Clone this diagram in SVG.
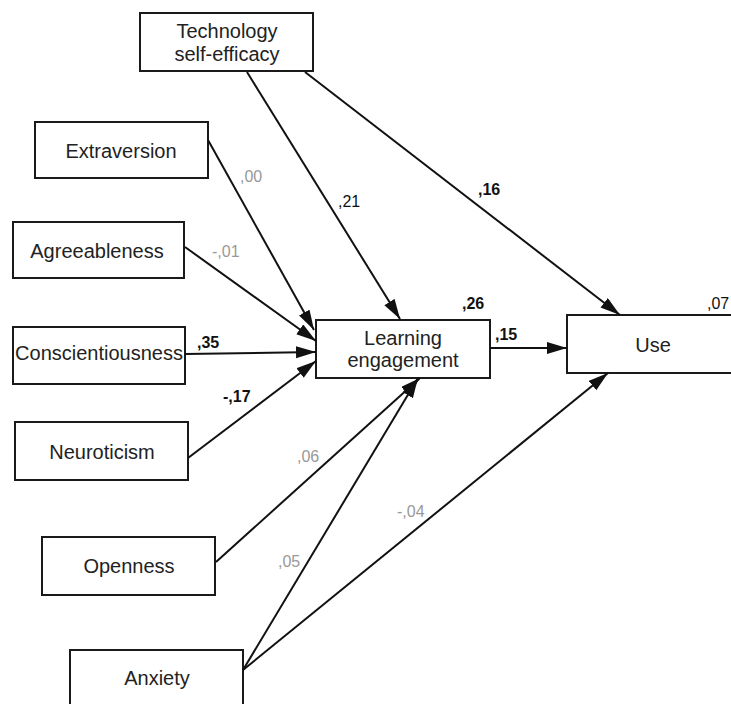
<svg xmlns="http://www.w3.org/2000/svg" width="731" height="704" viewBox="0 0 731 704">
<defs>
<marker id="ah" markerUnits="userSpaceOnUse" markerWidth="22" markerHeight="14" refX="20" refY="6" orient="auto">
<path d="M0,0 L20,6 L0,12 z" fill="#111"/>
</marker>
<style>
.box{fill:#fff;stroke:#1a1a1a;stroke-width:2}
.nt{font-family:"Liberation Sans",Arial,sans-serif;font-size:20px;fill:#222;text-anchor:middle}
.ln{stroke:#111;stroke-width:2;fill:none;marker-end:url(#ah)}
.lb{font-family:"Liberation Sans",Arial,sans-serif;font-size:16px;fill:#111;font-weight:bold}
.lr{font-family:"Liberation Sans",Arial,sans-serif;font-size:16px;fill:#111}
.lg{font-family:"Liberation Sans",Arial,sans-serif;font-size:16px;fill:#999}
</style>
</defs>
<rect width="731" height="704" fill="#fff"/>
<g id="tse"><rect class="box" x="140" y="13" width="173" height="58"/><text class="nt" x="227" y="38">Technology</text><text class="nt" x="227" y="61">self-efficacy</text></g>
<g id="extraversion"><rect class="box" x="35" y="122" width="173" height="56"/><text class="nt" x="121" y="158">Extraversion</text></g>
<g id="agreeableness"><rect class="box" x="13" y="222" width="171" height="56"/><text class="nt" x="97" y="258">Agreeableness</text></g>
<g id="conscientiousness"><rect class="box" x="13" y="327" width="172" height="57"/><text class="nt" x="99" y="360">Conscientiousness</text></g>
<g id="neuroticism"><rect class="box" x="15" y="422" width="173" height="58"/><text class="nt" x="102" y="459">Neuroticism</text></g>
<g id="openness"><rect class="box" x="42" y="537" width="173" height="58"/><text class="nt" x="129" y="573">Openness</text></g>
<g id="anxiety"><rect class="box" x="70" y="650" width="173" height="70"/><text class="nt" x="157" y="685">Anxiety</text></g>
<g id="learning"><rect class="box" x="316" y="320" width="174" height="58"/><text class="nt" x="403" y="345">Learning</text><text class="nt" x="403" y="367">engagement</text></g>
<g id="use"><rect class="box" x="567" y="315" width="180" height="58"/><text class="nt" x="653" y="352">Use</text></g>
<g id="connectors">
<line class="ln" x1="247" y1="72" x2="400" y2="319"/>
<line class="ln" x1="305" y1="72" x2="620" y2="315"/>
<line class="ln" x1="208" y1="140" x2="314" y2="330"/>
<line class="ln" x1="185" y1="247" x2="316" y2="341"/>
<line class="ln" x1="185" y1="354" x2="316" y2="352"/>
<line class="ln" x1="188" y1="458" x2="316" y2="361"/>
<line class="ln" x1="216" y1="562" x2="420" y2="378"/>
<line class="ln" x1="243" y1="670" x2="418" y2="378"/>
<line class="ln" x1="243" y1="670" x2="608" y2="373"/>
<line class="ln" x1="490" y1="348" x2="567" y2="348"/>
</g>
<g id="labels">
<text class="lg" x="240" y="182">,00</text>
<text class="lr" x="338" y="207">,21</text>
<text class="lg" x="212" y="257">-,01</text>
<text class="lb" x="197" y="348">,35</text>
<text class="lb" x="223" y="402">-,17</text>
<text class="lg" x="297" y="462">,06</text>
<text class="lg" x="278" y="567">,05</text>
<text class="lg" x="397" y="517">-,04</text>
<text class="lb" x="478" y="195">,16</text>
<text class="lb" x="462" y="309">,26</text>
<text class="lb" x="495" y="340">,15</text>
<text class="lr" x="707" y="309">,07</text>
</g>
</svg>
